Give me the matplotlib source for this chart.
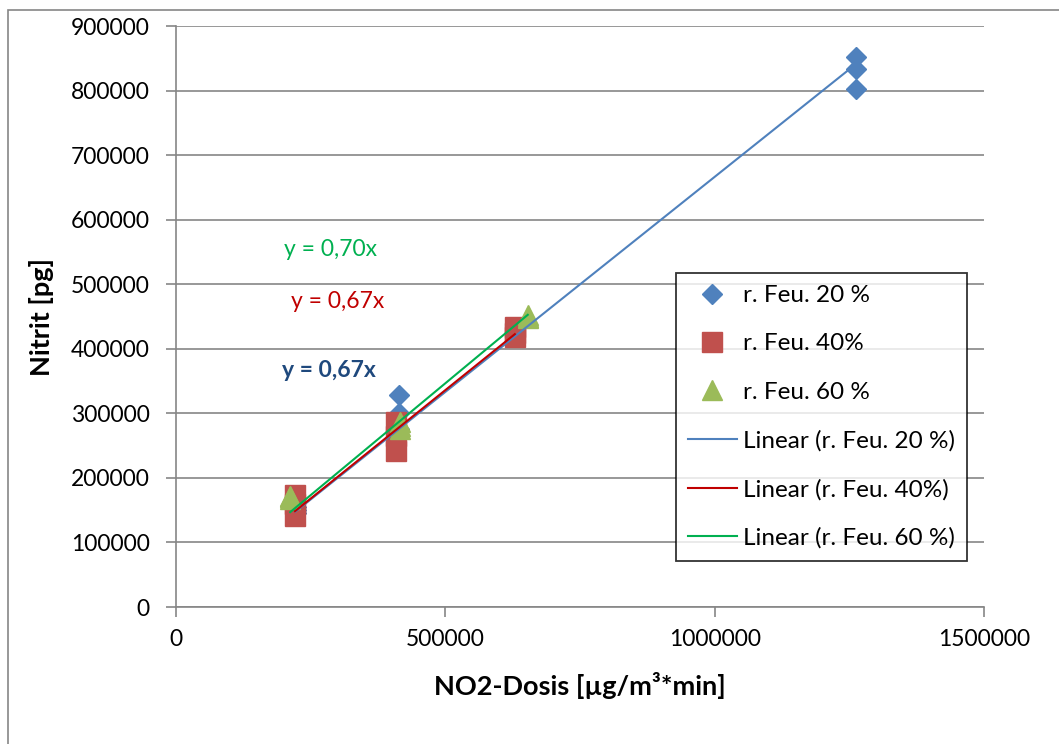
import matplotlib
matplotlib.use("Agg")
import matplotlib.pyplot as plt
from matplotlib.lines import Line2D
from matplotlib.patches import Rectangle
import numpy as np

plt.rcParams['font.family'] = ['Lato', 'DejaVu Sans']

# Data
x20 = [222000, 222000, 222000, 414000, 414000, 414000, 630000, 630000, 630000, 1262000, 1262000, 1262000]
y20 = [150000, 155000, 145000, 328000, 300000, 275000, 425000, 420000, 430000, 852000, 834000, 803000]
x40 = [221000, 221000, 221000, 408000, 408000, 408000, 629000, 629000, 629000]
y40 = [173000, 160000, 141000, 286000, 265000, 242000, 434000, 425000, 418000]
x60 = [212000, 212000, 212000, 416000, 416000, 416000, 653000, 653000, 653000]
y60 = [172000, 170000, 168000, 287000, 280000, 275000, 448000, 450000, 452000]

labels = ["r. Feu. 20 %", "r. Feu. 40%", "r. Feu. 60 %"]
eq_texts = ["y = 0,67x", "y = 0,67x", "y = 0,70x"]
xticks = [0, 500000, 1000000, 1500000]
yticks = [0, 100000, 200000, 300000, 400000, 500000, 600000, 700000, 800000, 900000]

mcol = ['#4F81BD', '#C0504D', '#9BBB59']
lcol = ['#4F81BD', '#C00000', '#00B050']
markers = ['D', 's', '^']
msize = [10.5, 14, 14]

FS = 16.5

fig = plt.figure(figsize=(10.59, 7.44), dpi=100)
fig.patches.append(Rectangle((8/1059, -0.01), 1.05, (744-10)/744 + 0.01, transform=fig.transFigure,
                             fill=False, edgecolor='#868686', linewidth=1.2, zorder=0))
ax = fig.add_axes([176/1059, 1-607/744, (984-176)/1059, (607-26)/744])

datasets = [(x20, y20), (x40, y40), (x60, y60)]
for i, (xs, ys) in enumerate(datasets):
    xs = np.array(xs, float); ys = np.array(ys, float)
    ax.plot(xs, ys, linestyle='none', marker=markers[i], markersize=msize[i],
            color=mcol[i], markeredgecolor=mcol[i], zorder=3, clip_on=False)
for i, (xs, ys) in enumerate(datasets):
    xs = np.array(xs, float); ys = np.array(ys, float)
    slope = np.sum(xs*ys)/np.sum(xs*xs)
    xl = np.array([xs.min(), xs.max()])
    ax.plot(xl, slope*xl, color=lcol[i], linewidth=1.5, zorder=4)

# equation labels
ax.text(283000, 366000, eq_texts[0], color='#1F497D', fontsize=FS, fontweight='bold', ha='center', va='center')
ax.text(300000, 474000, eq_texts[1], color='#C00000', fontsize=FS, ha='center', va='center')
ax.text(286000, 554500, eq_texts[2], color='#00B050', fontsize=FS, ha='center', va='center')

ax.set_xlim(0, 1500000)
ax.set_ylim(0, 900000)
ax.set_xticks(xticks)
ax.set_yticks(yticks)
ax.set_xticklabels([str(v) for v in xticks])
ax.set_yticklabels([str(v) for v in yticks])
ax.grid(axis='y', color='#868686', linewidth=1.2)
ax.set_axisbelow(True)
for s in ['top', 'right']:
    ax.spines[s].set_visible(False)
for s in ['left', 'bottom']:
    ax.spines[s].set_color('#868686')
    ax.spines[s].set_linewidth(1.2)
ax.tick_params(axis='both', direction='out', length=7, width=1.2, color='#868686',
               labelsize=FS, labelcolor='black')
ax.tick_params(axis='x', pad=9)
ax.tick_params(axis='y', pad=12)
ax.set_xlabel('NO2-Dosis [µg/m³*min]', fontsize=19.5, fontweight='bold', labelpad=16)
ax.set_ylabel('Nitrit [pg]', fontsize=19.5, fontweight='bold', labelpad=12)

handles = [
    Line2D([], [], linestyle='none', marker='D', markersize=10.5, color=mcol[0]),
    Line2D([], [], linestyle='none', marker='s', markersize=14, color=mcol[1]),
    Line2D([], [], linestyle='none', marker='^', markersize=14, color=mcol[2]),
    Line2D([], [], color=lcol[0], linewidth=1.5),
    Line2D([], [], color=lcol[1], linewidth=1.5),
    Line2D([], [], color=lcol[2], linewidth=1.5),
]
hl = labels + ["Linear (" + l + ")" for l in labels]
leg = ax.legend(handles, hl, loc='upper left', bbox_to_anchor=((676-176)/808, (607-273)/581),
                fontsize=17.5, frameon=True, fancybox=False, edgecolor='black',
                handlelength=2.0, labelspacing=1.12, borderpad=0.5, handletextpad=0.25,
                borderaxespad=0)
leg.get_frame().set_linewidth(1.3)

fig.savefig('out.png', dpi=100)
